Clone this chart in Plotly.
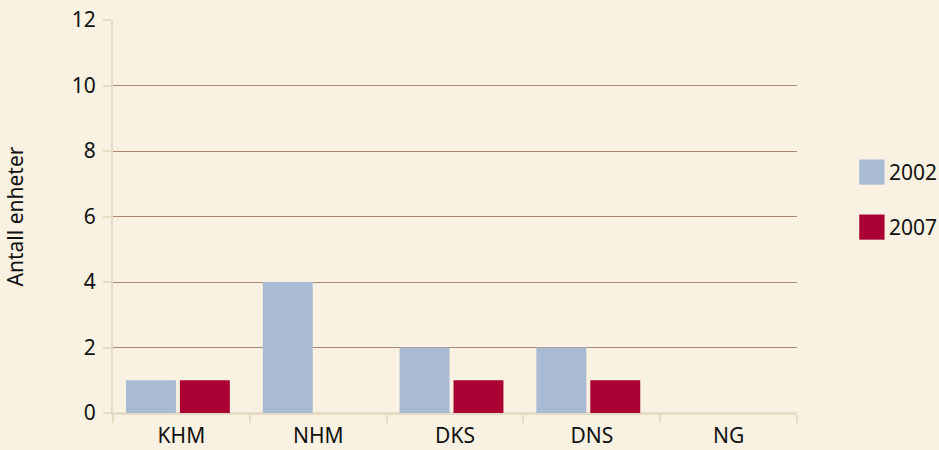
import plotly.graph_objects as go

# data
categories = ['KHM', 'NHM', 'DKS', 'DNS', 'NG']
series_names = ['2002', '2007']
values_2002 = [1, 4, 2, 2, 0]
values_2007 = [1, 0, 1, 1, 0]
y_ticks = [0, 2, 4, 6, 8, 10, 12]

colors = ['#a9bad5', '#ab0033']
bar_offsets = [-0.405, -0.011]   # in category units, like the original (group sits slightly left)
bar_width = 0.365
bg = '#f9f1e1'
axis_col = '#e6dcc6'
grid_col = '#a88a73'
font = dict(family='Noto Sans, Open Sans, sans-serif', size=21, color='#111111')

fig = go.Figure()
for name, vals, col, off in zip(series_names, [values_2002, values_2007], colors, bar_offsets):
    fig.add_trace(go.Bar(x=categories, y=vals, name=name, offset=off, width=bar_width,
                         marker=dict(color=col, line=dict(width=0)), showlegend=False))

fig.update_layout(
    width=939, height=450,
    margin=dict(l=113, r=142, t=20, b=37),
    paper_bgcolor=bg, plot_bgcolor=bg,
    font=font,
    barmode='group',
)
fig.update_xaxes(showline=True, linecolor=axis_col, linewidth=2, automargin=False,
                 ticks='outside', tickson='boundaries', ticklen=8, tickcolor=axis_col, tickwidth=2,
                 ticklabelstandoff=3, showgrid=False)
fig.update_yaxes(range=[0, 12], tickvals=y_ticks, showgrid=True, gridcolor=grid_col, gridwidth=1.2,
                 zeroline=True, zerolinecolor=axis_col, zerolinewidth=2, automargin=False,
                 showline=True, linecolor=axis_col, linewidth=2,
                 ticks='outside', ticklen=8, tickcolor=axis_col, tickwidth=2,
                 ticklabelstandoff=3,
                 title=dict(text='Antall enheter', standoff=42, font=font))

# legend drawn by hand, big squares like the original
for i, (name, col) in enumerate(zip(series_names, colors)):
    yc = 0.613 - i * 0.14
    fig.add_shape(type='rect', xref='paper', yref='paper',
                  x0=1.091, x1=1.128, y0=yc - 0.032, y1=yc + 0.032,
                  fillcolor=col, line=dict(width=0))
    fig.add_annotation(xref='paper', yref='paper', x=1.131, y=yc, text=name,
                       showarrow=False, xanchor='left', yanchor='middle', font=font)

fig.write_html("out.html", config={'displayModeBar': False},
               post_script="document.body.style.margin='0';")
